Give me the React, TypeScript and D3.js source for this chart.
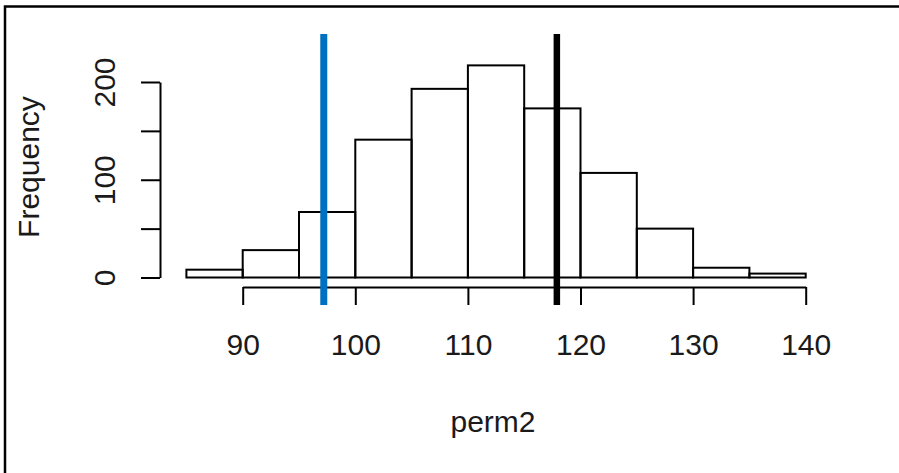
import { useRef, useEffect } from 'react';
import * as d3 from 'd3';

// histogram of perm2, bin width 5
const binStarts = [85, 90, 95, 100, 105, 110, 115, 120, 125, 130, 135];
const counts = [8, 28, 67, 141, 193, 217, 173, 107, 50, 10, 4];
const xTicks = [90, 100, 110, 120, 130, 140];
const yTicks = [0, 50, 100, 150, 200];
const yLabels = [0, 100, 200];
const refLines = [
  { value: 97.2, color: '#0070C0', width: 7 },
  { value: 117.9, color: '#000000', width: 6.5 },
];
const xTitle = 'perm2';
const yTitle = 'Frequency';

function App() {
  const svgRef = useRef<SVGSVGElement>(null);

  useEffect(() => {
    const width = 899;
    const height = 473;
    const font = '"Liberation Sans", Arial, sans-serif';

    const svg = d3.select(svgRef.current)
      .attr('width', width)
      .attr('height', height);
    svg.selectAll('*').remove();

    svg.append('rect').attr('width', width).attr('height', height).attr('fill', '#fff');

    // frame (top and left only)
    svg.append('path')
      .attr('d', `M5,${height} L5,6.5 L${width},6.5`)
      .attr('fill', 'none')
      .attr('stroke', '#000')
      .attr('stroke-width', 2.5);

    const x = d3.scaleLinear().domain([90, 140]).range([242.7, 805.7]);
    const y = d3.scaleLinear().domain([0, 200]).range([277.5, 82]);
    const binW = 5;

    // bars
    svg.append('g')
      .selectAll('rect')
      .data(binStarts)
      .enter()
      .append('rect')
      .attr('x', d => x(d))
      .attr('y', (d, i) => y(counts[i]))
      .attr('width', d => x(d + binW) - x(d))
      .attr('height', (d, i) => y(0) - y(counts[i]))
      .attr('fill', 'none')
      .attr('stroke', '#000')
      .attr('stroke-width', 2);

    // x axis
    const xAxis = svg.append('g')
      .attr('transform', 'translate(0,287)')
      .call(d3.axisBottom(x).tickValues(xTicks).tickSize(18).tickSizeOuter(0).tickPadding(29));
    xAxis.select('.domain').attr('stroke-width', 2);
    xAxis.selectAll('line').attr('stroke-width', 2);
    xAxis.selectAll('text')
      .attr('font-family', font)
      .attr('font-size', 30)
      .attr('fill', '#1a1a1a');

    // y axis
    const yAxis = svg.append('g')
      .attr('transform', 'translate(160,0)')
      .call(d3.axisLeft(y).tickValues(yTicks).tickSize(19).tickSizeOuter(0)
        .tickFormat(d => (yLabels.includes(+d) ? String(d) : '')));
    yAxis.select('.domain').attr('stroke-width', 2);
    yAxis.selectAll('line').attr('stroke-width', 2);
    yAxis.selectAll('text')
      .attr('x', null)
      .attr('dy', null)
      .attr('transform', 'translate(-45,0) rotate(-90)')
      .attr('text-anchor', 'middle')
      .attr('font-family', font)
      .attr('font-size', 30)
      .attr('fill', '#1a1a1a');

    // reference lines
    svg.append('g')
      .selectAll('line')
      .data(refLines)
      .enter()
      .append('line')
      .attr('x1', d => x(d.value))
      .attr('x2', d => x(d.value))
      .attr('y1', 34)
      .attr('y2', 305)
      .attr('stroke', d => d.color)
      .attr('stroke-width', d => d.width);

    // titles
    svg.append('text')
      .attr('x', 493)
      .attr('y', 432)
      .attr('text-anchor', 'middle')
      .attr('font-family', font)
      .attr('font-size', 30)
      .attr('fill', '#1a1a1a')
      .text(xTitle);

    svg.append('text')
      .attr('transform', 'translate(39,167) rotate(-90)')
      .attr('text-anchor', 'middle')
      .attr('font-family', font)
      .attr('font-size', 30)
      .attr('fill', '#1a1a1a')
      .text(yTitle);
  }, []);

  return (
    <div style={{ position: 'absolute', left: 0, top: 0 }}>
      <svg ref={svgRef} style={{ display: 'block' }}></svg>
    </div>
  );
}

export default App;
